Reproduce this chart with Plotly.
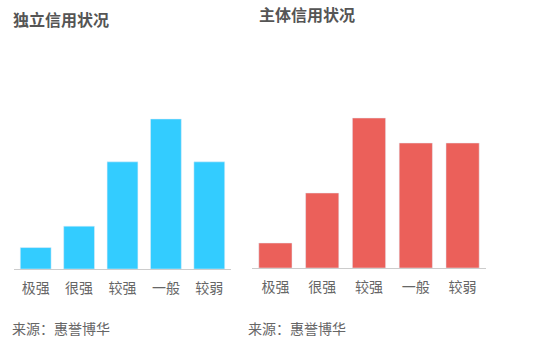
import plotly.graph_objects as go

categories = ["极强", "很强", "较强", "一般", "较弱"]
independent_values = [1, 2, 5, 7, 5]
entity_values = [1, 3, 6, 5, 5]

W, H = 537, 359
font_family = "Noto Sans CJK SC, Noto Sans, sans-serif"
gray = "#666666"

fig = go.Figure()
fig.add_trace(go.Bar(x=categories, y=independent_values, marker_color="#33CCFF",
                     xaxis="x", yaxis="y", showlegend=False, hoverinfo="x+y"))
fig.add_trace(go.Bar(x=categories, y=entity_values, marker_color="#EB605A",
                     xaxis="x2", yaxis="y2", showlegend=False, hoverinfo="x+y"))

def fx(px):
    return px / W

def fy(px):
    return 1 - px / H

axis_common = dict(showgrid=False, zeroline=False, showline=True, linecolor="#CCCCCC",
                   linewidth=1, ticks="", ticklabelstandoff=6,
                   tickfont=dict(family=font_family, size=14, color=gray),
                   fixedrange=True)
yaxis_common = dict(showgrid=False, zeroline=False, showline=False, showticklabels=False,
                    fixedrange=True)

fig.update_layout(
    width=W, height=H,
    margin=dict(l=0, r=0, t=0, b=0),
    paper_bgcolor="white", plot_bgcolor="white",
    bargap=0.29,
    xaxis=dict(domain=[fx(14), fx(231)], anchor="y", **axis_common),
    yaxis=dict(domain=[fy(269), fy(100)], range=[0, 169 / 21.43], anchor="x", **yaxis_common),
    xaxis2=dict(domain=[fx(252), fx(486)], anchor="y2", **axis_common),
    yaxis2=dict(domain=[fy(268), fy(100)], range=[0, 168 / 25.0], anchor="x2", **yaxis_common),
    font=dict(family=font_family, color=gray),
)

annotations = [
    dict(text="<b>独立信用状况</b>", x=fx(11), y=fy(19), xanchor="left", yanchor="middle",
         font=dict(size=16, color="#555555")),
    dict(text="<b>主体信用状况</b>", x=fx(257), y=fy(14), xanchor="left", yanchor="middle",
         font=dict(size=16, color="#555555")),
    dict(text="来源：惠誉博华", x=fx(10), y=fy(328), xanchor="left", yanchor="middle",
         font=dict(size=14, color=gray)),
    dict(text="来源：惠誉博华", x=fx(246), y=fy(328), xanchor="left", yanchor="middle",
         font=dict(size=14, color=gray)),
]
for a in annotations:
    a.update(xref="paper", yref="paper", showarrow=False)
    a["font"]["family"] = font_family
fig.update_layout(annotations=annotations)

fig.write_html("out.html", config={"displayModeBar": False},
               post_script="document.body.style.margin='0px';")
